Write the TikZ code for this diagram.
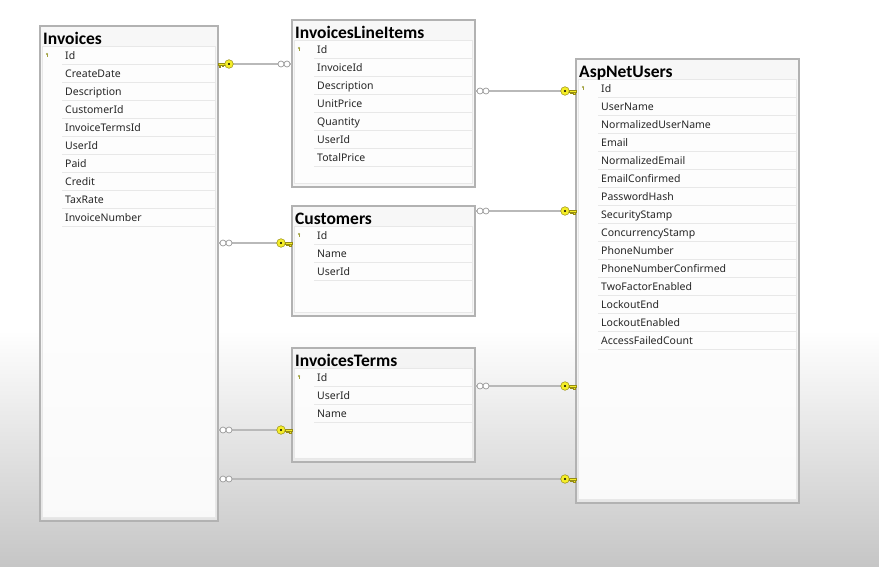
\documentclass[tikz,border=0pt]{standalone}
\usepackage{fontspec}
\setmainfont{Noto Sans}
\newfontfamily\titlefont{Carlito}
\usetikzlibrary{positioning, calc}
\definecolor{my_frame}{RGB}{178, 178, 178}
\definecolor{my_title}{RGB}{242, 242, 242}
\definecolor{my_sep}{RGB}{232, 232, 232}
\definecolor{my_key}{RGB}{245, 238, 40}
\definecolor{my_keyline}{RGB}{150, 140, 20}
\definecolor{my_pk}{RGB}{160, 160, 60}
\definecolor{my_bottom}{RGB}{198, 198, 198}
\tikzset {
  dbtable/.style = {draw=my_frame, line width=1.3pt, fill=my_title, fill opacity=0.6, rectangle, anchor=north west, inner sep=0, outer sep=0},
  rowarea/.style = {draw=my_sep, line width=0.6pt, fill=white, fill opacity=0.8},
  sepline/.style = {draw=my_sep, line width=0.6pt},
  title/.style = {font=\titlefont\bfseries\fontsize{17.5}{17.5}\selectfont, anchor=base west, inner sep=0},
  field/.style = {font=\fontsize{10.5}{12}\selectfont, text=black!85, anchor=base west, inner sep=0},
  rel/.style = {draw=gray!55, line width=1.6pt},
  % key end of a relation, drawn from the table edge outwards
  keyend/.pic = {
    \draw[my_keyline, fill=my_key, line width=0.4pt] (0,-1.3) rectangle (7,1.3);
    \draw[my_keyline, fill=my_key, line width=0.4pt] (1,1.3) rectangle (2.5,3);
    \draw[my_keyline, fill=my_key, line width=0.4pt] (4,1.3) rectangle (5.5,2.6);
    \draw[my_keyline, fill=my_key, line width=0.5pt] (11,0) circle (4.3);
    \fill[black] (11,0) circle (1.1);
  },
  % many end of a relation
  manyend/.pic = {
    \draw[gray!80, fill=white, line width=0.7pt] (5,0) circle (3) (11,0) circle (3);
  }
}
\newcommand{\dbtable}[6]{%
  \node[dbtable, minimum width=#3, minimum height=#4] (#1) at (#2) {};
  \draw[rowarea] ($(#1.north west)+(2,20)$) rectangle ($(#1.south east)+(-3,-4)$);
  \node[title] at ($(#1.north west)+(3,18.5)$) {#5};
  \fill[my_pk] ($(#1.north west)+(7,28)$) circle (1.2);
  \fill[my_pk] ($(#1.north west)+(6.6,28)$) rectangle ($(#1.north west)+(7.4,31)$);
  \foreach \f [count=\i] in {#6} {
    \node[field] at ($(#1.north west)+(25,15+18*\i)$) {\f};
    \draw[sepline] ($(#1.north west)+(22,20+18*\i)$) -- ($(#1.north east)+(-3,20+18*\i)$);
  }
}

\begin{document}
\begin{tikzpicture}[x=1pt, y=-1pt]

    \useasboundingbox (0,0) rectangle (879,566);
    \fill[white] (0,0) rectangle (879,331);
    \shade[top color=white, bottom color=my_bottom] (0,330) rectangle (879,566);

    \dbtable{invoices}{40,26}{178}{495}{Invoices}{Id, CreateDate, Description, CustomerId, InvoiceTermsId, UserId, Paid, Credit, TaxRate, InvoiceNumber}
    \dbtable{lineitems}{292,20}{183}{167}{InvoicesLineItems}{Id, InvoiceId, Description, UnitPrice, Quantity, UserId, TotalPrice}
    \dbtable{customers}{292,206}{183}{110}{Customers}{Id, Name, UserId}
    \dbtable{terms}{292,348}{183}{114}{InvoicesTerms}{Id, UserId, Name}
    \dbtable{users}{576,59}{223}{444}{AspNetUsers}{Id, UserName, NormalizedUserName, Email, NormalizedEmail, EmailConfirmed, PasswordHash, SecurityStamp, ConcurrencyStamp, PhoneNumber, PhoneNumberConfirmed, TwoFactorEnabled, LockoutEnd, LockoutEnabled, AccessFailedCount}

    \draw[rel] (invoices.east |- 0,64) -- (lineitems.west |- 0,64);
    \pic at (invoices.east |- 0,64) {keyend};
    \pic[xscale=-1] at (lineitems.west |- 0,64) {manyend};

    \draw[rel] (lineitems.east |- 0,91) -- (users.west |- 0,91);
    \pic at (lineitems.east |- 0,91) {manyend};
    \pic[xscale=-1] at (users.west |- 0,91) {keyend};

    \draw[rel] (customers.east |- 0,211) -- (users.west |- 0,211);
    \pic at (customers.east |- 0,211) {manyend};
    \pic[xscale=-1] at (users.west |- 0,211) {keyend};

    \draw[rel] (invoices.east |- 0,243) -- (customers.west |- 0,243);
    \pic at (invoices.east |- 0,243) {manyend};
    \pic[xscale=-1] at (customers.west |- 0,243) {keyend};

    \draw[rel] (terms.east |- 0,386) -- (users.west |- 0,386);
    \pic at (terms.east |- 0,386) {manyend};
    \pic[xscale=-1] at (users.west |- 0,386) {keyend};

    \draw[rel] (invoices.east |- 0,430) -- (terms.west |- 0,430);
    \pic at (invoices.east |- 0,430) {manyend};
    \pic[xscale=-1] at (terms.west |- 0,430) {keyend};

    \draw[rel] (invoices.east |- 0,479) -- (users.west |- 0,479);
    \pic at (invoices.east |- 0,479) {manyend};
    \pic[xscale=-1] at (users.west |- 0,479) {keyend};

\end{tikzpicture}
\end{document}
